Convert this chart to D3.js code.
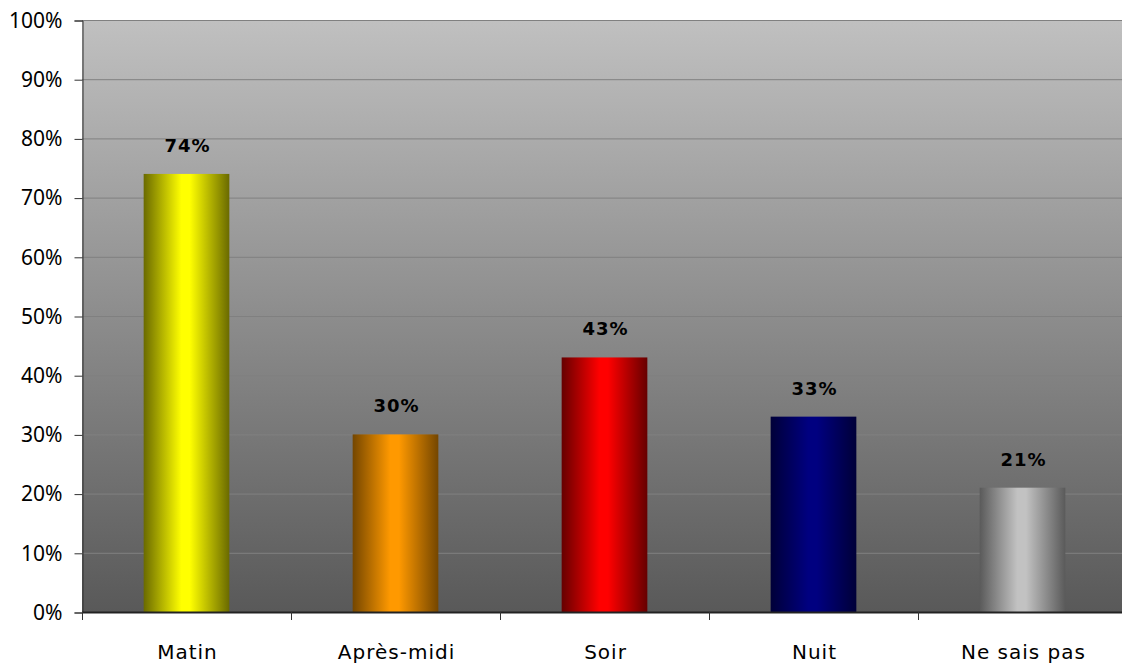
<!DOCTYPE html>
<html><head><meta charset="utf-8">
<script src="https://cdn.jsdelivr.net/npm/d3@7"></script>
<style>body{margin:0;background:#fff;overflow:hidden}svg{display:block}</style>
</head><body>
<svg id="c" width="1122" height="665"></svg>
<script>
const categories = ["Matin", "Après-midi", "Soir", "Nuit", "Ne sais pas"];
const values = [74, 30, 43, 33, 21];
const yTicks = [0,10,20,30,40,50,60,70,80,90,100];
const barColors = [
  {edge:"#6a6a00", center:"#ffff00"},
  {edge:"#744600", center:"#ff9900"},
  {edge:"#660000", center:"#ff0000"},
  {edge:"#000038", center:"#000080"},
  {edge:"#5a5a5a", center:"#c2c2c2"}
];

const svg = d3.select("#c");
const m = {l:82, r:1127, t:20, b:612};
const x = d3.scaleBand().domain(categories).range([m.l, m.r]).paddingInner(0.59).paddingOuter(0.295);
const y = d3.scaleLinear().domain([0,100]).range([m.b, m.t]);

const defs = svg.append("defs");
const bg = defs.append("linearGradient").attr("id","bg").attr("x1",0).attr("y1",0).attr("x2",0).attr("y2",1);
bg.append("stop").attr("offset","0%").attr("stop-color","#c0c0c0");
bg.append("stop").attr("offset","100%").attr("stop-color","#595959");
barColors.forEach((c,i)=>{
  const g = defs.append("linearGradient").attr("id","g"+i).attr("x1",0).attr("y1",0).attr("x2",1).attr("y2",0);
  g.append("stop").attr("offset","0%").attr("stop-color",c.edge);
  g.append("stop").attr("offset","44%").attr("stop-color",c.center);
  g.append("stop").attr("offset","54%").attr("stop-color",c.center);
  g.append("stop").attr("offset","100%").attr("stop-color",c.edge);
});

svg.append("rect").attr("x",m.l).attr("y",m.t).attr("width",m.r-m.l).attr("height",m.b-m.t).attr("fill","url(#bg)");

// gridlines
svg.append("g").selectAll("line").data(yTicks.filter(d=>d>0)).join("line")
  .attr("x1",m.l).attr("x2",m.r).attr("y1",d=>y(d)+0.5).attr("y2",d=>y(d)+0.5)
  .attr("stroke","#808080").attr("stroke-width",1);

// bars
svg.append("g").selectAll("rect").data(values).join("rect")
  .attr("x",(d,i)=>x(categories[i])).attr("width",x.bandwidth())
  .attr("y",d=>y(d)).attr("height",d=>y(0)-y(d))
  .attr("fill",(d,i)=>"url(#g"+i+")");

// value labels
svg.append("g").selectAll("text").data(values).join("text")
  .attr("x",(d,i)=>x(categories[i])+x.bandwidth()/2+1)
  .attr("y",d=>y(d)-22)
  .attr("text-anchor","middle")
  .attr("font-family","DejaVu Sans").attr("font-weight","bold").attr("font-size",18)
  .attr("letter-spacing",1)
  .attr("fill","#000")
  .text(d=>d+"%");

// y axis
const yAxis = d3.axisLeft(y).tickValues(yTicks).tickFormat(d=>d+"%").tickSize(8).tickPadding(12);
const ya = svg.append("g").attr("transform",`translate(${m.l+0.5},0.5)`).call(yAxis);
ya.select(".domain").attr("stroke","#333");
ya.selectAll(".tick line").attr("stroke","#333");
ya.selectAll("text").attr("font-family","Noto Sans").attr("font-size",21).attr("fill","#000");

// x axis
const bounds = categories.map(c=>x(c)-x.step()*x.paddingInner()/2);
const xa = svg.append("g");
xa.append("line").attr("x1",m.l).attr("x2",m.r).attr("y1",m.b+0.5).attr("y2",m.b+0.5).attr("stroke","#222").attr("stroke-width",2);
xa.selectAll("line.t").data(bounds).join("line").attr("class","t")
  .attr("x1",d=>Math.round(d)+0.5).attr("x2",d=>Math.round(d)+0.5).attr("y1",m.b).attr("y2",m.b+8).attr("stroke","#333");
xa.selectAll("text").data(categories).join("text")
  .attr("x",d=>x(d)+x.bandwidth()/2+1).attr("y",659)
  .attr("text-anchor","middle")
  .attr("font-family","DejaVu Sans").attr("font-size",20).attr("letter-spacing",1)
  .attr("fill","#000").text(d=>d);
</script>
</body></html>
